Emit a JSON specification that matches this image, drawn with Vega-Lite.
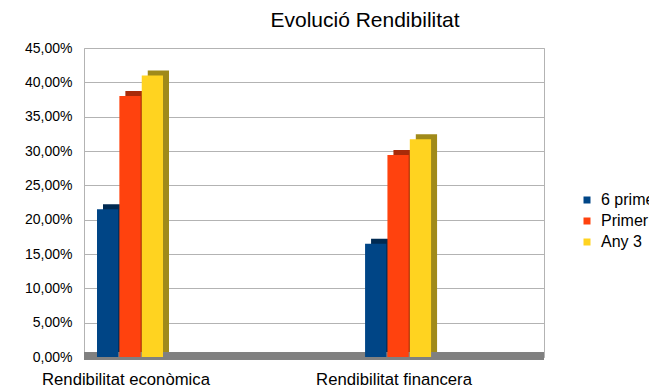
{
  "$schema": "https://vega.github.io/schema/vega-lite/v6.json",
  "autosize": {"type": "none"},
  "width": 460,
  "height": 309,
  "padding": {"left": 84, "top": 48, "right": 105, "bottom": 35},
  "title": {"text": "Evolució Rendibilitat", "fontSize": 21, "fontWeight": "normal", "font": "Liberation Sans", "color": "#000000", "anchor": "middle", "dx": 51, "offset": 10},
  "config": {
    "locale": {"number": {"decimal": ",", "thousands": ".", "grouping": [3], "currency": ["", " €"]}},
    "view": {"stroke": "#b3b3b3", "strokeWidth": 1},
    "font": "Liberation Sans"
  },
  "data": {"values": [
    {"categoria": "Rendibilitat econòmica", "serie": "6 primers mesos", "valor": 0.215},
    {"categoria": "Rendibilitat econòmica", "serie": "Primer any", "valor": 0.38},
    {"categoria": "Rendibilitat econòmica", "serie": "Any 3", "valor": 0.41},
    {"categoria": "Rendibilitat financera", "serie": "6 primers mesos", "valor": 0.165},
    {"categoria": "Rendibilitat financera", "serie": "Primer any", "valor": 0.294},
    {"categoria": "Rendibilitat financera", "serie": "Any 3", "valor": 0.317}
  ]},
  "encoding": {
    "x": {"field": "categoria", "type": "nominal", "sort": null,
      "scale": {"paddingInner": 0.381, "paddingOuter": 0.0485},
      "axis": {"title": null, "labelAngle": 0, "domain": false, "ticks": false, "labelFontSize": 16.7, "labelColor": "#000000", "labelPadding": 14, "labelOffset": -54}},
    "y": {"field": "valor", "type": "quantitative",
      "scale": {"domain": [0, 0.45]},
      "axis": {"title": null, "format": ".2%", "values": [0, 0.05, 0.1, 0.15, 0.2, 0.25, 0.3, 0.35, 0.4, 0.45], "domain": false, "ticks": false, "labelFontSize": 14, "labelColor": "#000000", "labelPadding": 12, "gridColor": "#b3b3b3"}}
  },
  "layer": [
    {
      "mark": {"type": "rule", "strokeWidth": 7, "color": "#808080", "yOffset": -1},
      "encoding": {"y": {"datum": 0}, "x": null}
    },
    {
      "mark": {"type": "bar", "yOffset": -5},
      "encoding": {
        "xOffset": {"field": "serie", "type": "nominal", "sort": ["6 primers mesos", "Primer any", "Any 3"], "scale": {"paddingInner": 0.05, "range": [6, 72]}},
        "color": {"field": "serie", "type": "nominal", "sort": ["6 primers mesos", "Primer any", "Any 3"],
          "scale": {"range": ["#002a52", "#a82b09", "#a08a1a"]}, "legend": null}
      }
    },
    {
      "mark": {"type": "bar"},
      "encoding": {
        "xOffset": {"field": "serie", "type": "nominal", "sort": ["6 primers mesos", "Primer any", "Any 3"], "scale": {"paddingInner": 0.05, "range": [0, 66]}},
        "fill": {"field": "serie", "type": "nominal", "sort": ["6 primers mesos", "Primer any", "Any 3"],
          "scale": {"range": ["#004586", "#ff420e", "#ffd320"]},
          "legend": {"title": null, "orient": "none", "legendX": 495, "legendY": 144, "symbolType": "square", "symbolSize": 49, "symbolStrokeWidth": 0, "labelFontSize": 16, "labelColor": "#000000", "rowPadding": 5, "labelOffset": 6}}
      }
    }
  ],
  "resolve": {"scale": {"color": "independent", "xOffset": "independent"}}
}
